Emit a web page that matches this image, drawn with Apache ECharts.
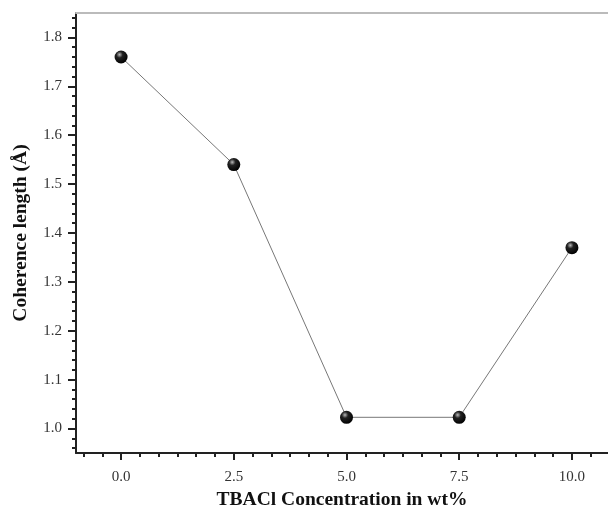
<!DOCTYPE html>
<html>
<head>
<meta charset="utf-8">
<script src="https://cdn.jsdelivr.net/npm/echarts@6/dist/echarts.min.js"></script>
<style>
  html, body { margin: 0; padding: 0; background: #fff; }
  #chart { width: 608px; height: 513px; }
</style>
</head>
<body>
<div id="chart"></div>
<script>
// data
const concentration = [0, 2.5, 5.0, 7.5, 10.0]
const coherence = [1.76, 1.54, 1.023, 1.023, 1.37]
const xTicks = [0, 2.5, 5.0, 7.5, 10.0]
const yTicks = [1.0, 1.1, 1.2, 1.3, 1.4, 1.5, 1.6, 1.7, 1.8]

// minor tick positions: 6 steps between x majors, 5 between y majors
let xMinor = []
for (let i = -2; i <= 25; i++) {
  let v = Math.round(i * 2.5 / 6 * 1000) / 1000
  if (i % 6 !== 0) xMinor.push(v)
}
let yMinor = []
for (let i = 48; i <= 92; i++) {
  if (i % 5 !== 0) yMinor.push(i / 50)
}

const serif = "Liberation Serif"
const labelStyle = { fontFamily: serif, fontSize: 15, color: "#333" }
const titleStyle = { fontFamily: serif, fontSize: 19.5, fontWeight: "bold", color: "#111" }

const points = concentration.map((x, i) => [x, coherence[i]])

let option = {
  animation: false,
  grid: { left: 76, top: 13, right: 0, bottom: 60, outerBoundsMode: "none", containLabel: false },
  xAxis: [
    {
      type: "value",
      min: -1,
      max: 10.8,
      position: "bottom",
      splitLine: { show: false },
      axisLine: { onZero: false, lineStyle: { color: "#222", width: 2 } },
      axisTick: { customValues: xTicks, length: 7, lineStyle: { color: "#222", width: 2 } },
      axisLabel: {
        customValues: xTicks,
        margin: 17,
        formatter: (v) => v.toFixed(1),
        ...labelStyle
      },
      name: "TBACl Concentration in wt%",
      nameLocation: "middle",
      nameGap: 37,
      nameTextStyle: titleStyle
    },
    {
      type: "value",
      min: -1,
      max: 10.8,
      position: "bottom",
      splitLine: { show: false },
      axisLine: { show: false, onZero: false },
      axisTick: { customValues: xMinor, length: 4, lineStyle: { color: "#222", width: 2 } },
      axisLabel: { show: false }
    },
    {
      type: "value",
      min: -1,
      max: 10.8,
      position: "top",
      splitLine: { show: false },
      axisLine: { onZero: false, lineStyle: { color: "#bbb", width: 2 } },
      axisTick: { show: false },
      axisLabel: { show: false }
    }
  ],
  yAxis: [
    {
      type: "value",
      min: 0.95,
      max: 1.85,
      position: "left",
      splitLine: { show: false },
      axisLine: { onZero: false, lineStyle: { color: "#222", width: 2 } },
      axisTick: { customValues: yTicks, length: 8, lineStyle: { color: "#222", width: 2 } },
      axisLabel: {
        customValues: yTicks,
        margin: 14,
        formatter: (v) => v.toFixed(1),
        ...labelStyle
      },
      name: "Coherence length (Å)",
      nameLocation: "middle",
      nameGap: 45,
      nameTextStyle: titleStyle
    },
    {
      type: "value",
      min: 0.95,
      max: 1.85,
      position: "left",
      splitLine: { show: false },
      axisLine: { show: false, onZero: false },
      axisTick: { customValues: yMinor, length: 4, lineStyle: { color: "#222", width: 2 } },
      axisLabel: { show: false }
    }
  ],
  series: [
    {
      type: "line",
      data: points,
      xAxisIndex: 0,
      yAxisIndex: 0,
      symbol: "circle",
      symbolSize: 13,
      lineStyle: { color: "#777", width: 1 },
      itemStyle: {
        color: {
          type: "radial",
          x: 0.38,
          y: 0.32,
          r: 0.7,
          colorStops: [
            { offset: 0, color: "#bbb" },
            { offset: 0.35, color: "#222" },
            { offset: 1, color: "#000" }
          ]
        }
      }
    }
  ]
}

const myChart = echarts.init(document.getElementById("chart"))
myChart.setOption(option)
</script>
</body>
</html>
